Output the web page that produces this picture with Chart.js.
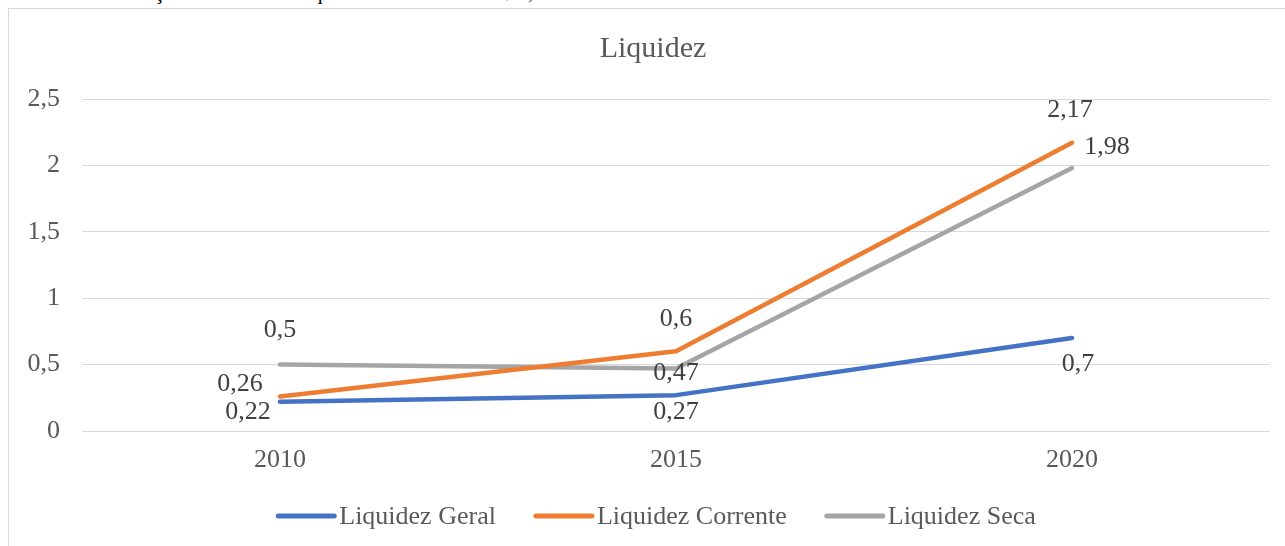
<!DOCTYPE html>
<html>
<head>
<meta charset="utf-8">
<script src="https://cdn.jsdelivr.net/npm/chart.js@4.4.0/dist/chart.umd.min.js"></script>
<style>
  html, body { margin: 0; padding: 0; background: #ffffff; width: 1285px; height: 546px; overflow: hidden; }
  #caption { position: absolute; left: 20px; top: -20px; font: 21px "Liberation Serif", serif; color: #000; white-space: nowrap; }
  #frame { position: absolute; left: 8px; top: 8px; width: 1290px; height: 560px; border: 1px solid #d9d9d9; box-sizing: border-box; }
  #wrap { position: absolute; left: 9px; top: 9px; width: 1275px; height: 537px; }
</style>
</head>
<body>
<div id="caption">Gráfico 1: Situação financeira – Liquidez – Valores em R$ 1,00</div>
<div id="frame"></div>
<div id="wrap"><canvas id="c" width="1275" height="537"></canvas></div>
<script>
const chartTitle = "Liquidez";
const categories = ["2010", "2015", "2020"];
const seriesNames = ["Liquidez Geral", "Liquidez Corrente", "Liquidez Seca"];
const liquidezGeral = [0.22, 0.27, 0.7];
const liquidezCorrente = [0.26, 0.6, 2.17];
const liquidezSeca = [0.5, 0.47, 1.98];
const yTickValues = [0, 0.5, 1, 1.5, 2, 2.5];
const yTickLabels = ["0", "0,5", "1", "1,5", "2", "2,5"];

const colors = ["#4472C4", "#ED7D31", "#A5A5A5"];
// label offsets (px) relative to each point, per series
const labelOffsets = [
  [[-32, 9], [0, 16], [6, 25]],
  [[-40, -13], [0, -33], [-2, -34]],
  [[0, -35], [0, 4], [35, -22]]
];
const FONT = '"Liberation Serif", "Times New Roman", serif';

const fmt = v => String(v).replace('.', ',');

const labelsPlugin = {
  id: 'dataLabels',
  afterDatasetsDraw(chart) {
    const ctx = chart.ctx;
    ctx.save();
    ctx.font = '26px ' + FONT;
    ctx.fillStyle = '#404040';
    ctx.textAlign = 'center';
    ctx.textBaseline = 'middle';
    chart.data.datasets.forEach((ds, di) => {
      const meta = chart.getDatasetMeta(di);
      meta.data.forEach((pt, i) => {
        const off = labelOffsets[di][i];
        ctx.fillText(fmt(ds.data[i]), pt.x + off[0], pt.y + off[1] + 1);
      });
    });
    ctx.restore();
  }
};

const titleLegendPlugin = {
  id: 'titleLegend',
  afterDraw(chart) {
    const ctx = chart.ctx;
    ctx.save();
    ctx.font = '30px ' + FONT;
    ctx.fillStyle = '#595959';
    ctx.textAlign = 'center';
    ctx.textBaseline = 'middle';
    ctx.fillText(chartTitle, 644, 40);

    ctx.font = '26px ' + FONT;
    const lineW = 60, gap = 3, spacing = 38;
    let total = 0;
    const widths = chart.data.datasets.map(ds => ctx.measureText(ds.label).width);
    widths.forEach((w, i) => { total += lineW + gap + w + (i < widths.length - 1 ? spacing : 0); });
    let x = 647 - total / 2;
    const y = 507;
    ctx.textAlign = 'left';
    chart.data.datasets.forEach((ds, i) => {
      ctx.strokeStyle = ds.borderColor;
      ctx.lineWidth = 5;
      ctx.lineCap = 'round';
      ctx.beginPath();
      ctx.moveTo(x + 2, y);
      ctx.lineTo(x + lineW - 2, y);
      ctx.stroke();
      ctx.fillStyle = '#595959';
      ctx.fillText(ds.label, x + lineW + gap, y + 1);
      x += lineW + gap + widths[i] + spacing;
    });
    ctx.restore();
  }
};

new Chart(document.getElementById('c'), {
  type: 'line',
  data: {
    labels: categories,
    datasets: [
      { label: seriesNames[0], data: liquidezGeral, borderColor: colors[0], backgroundColor: colors[0] },
      { label: seriesNames[1], data: liquidezCorrente, borderColor: colors[1], backgroundColor: colors[1] },
      { label: seriesNames[2], data: liquidezSeca, borderColor: colors[2], backgroundColor: colors[2] }
    ]
  },
  options: {
    responsive: false,
    animation: false,
    devicePixelRatio: 1,
    layout: { padding: { top: 90, bottom: 60, left: 0, right: 14 } },
    elements: {
      line: { borderWidth: 4.5, tension: 0, borderCapStyle: 'round', borderJoinStyle: 'round' },
      point: { radius: 0, hoverRadius: 0 }
    },
    plugins: {
      legend: { display: false },
      title: { display: false },
      tooltip: { enabled: false }
    },
    scales: {
      x: {
        offset: true,
        grid: { display: false, drawTicks: false },
        border: { display: false },
        ticks: { color: '#595959', font: { family: FONT, size: 26 }, padding: 14 },
        afterFit(s) { s.height = 55; }
      },
      y: {
        min: 0, max: 2.5,
        afterBuildTicks(s) { s.ticks = yTickValues.map(v => ({ value: v })); },
        grid: { color: '#d9d9d9', lineWidth: 1, drawTicks: false },
        border: { display: false },
        ticks: {
          color: '#595959', font: { family: FONT, size: 26 }, padding: 22,
          callback: (v, i) => yTickLabels[i]
        },
        afterFit(s) { s.width = 73; }
      }
    }
  },
  plugins: [labelsPlugin, titleLegendPlugin]
});
</script>
</body>
</html>
